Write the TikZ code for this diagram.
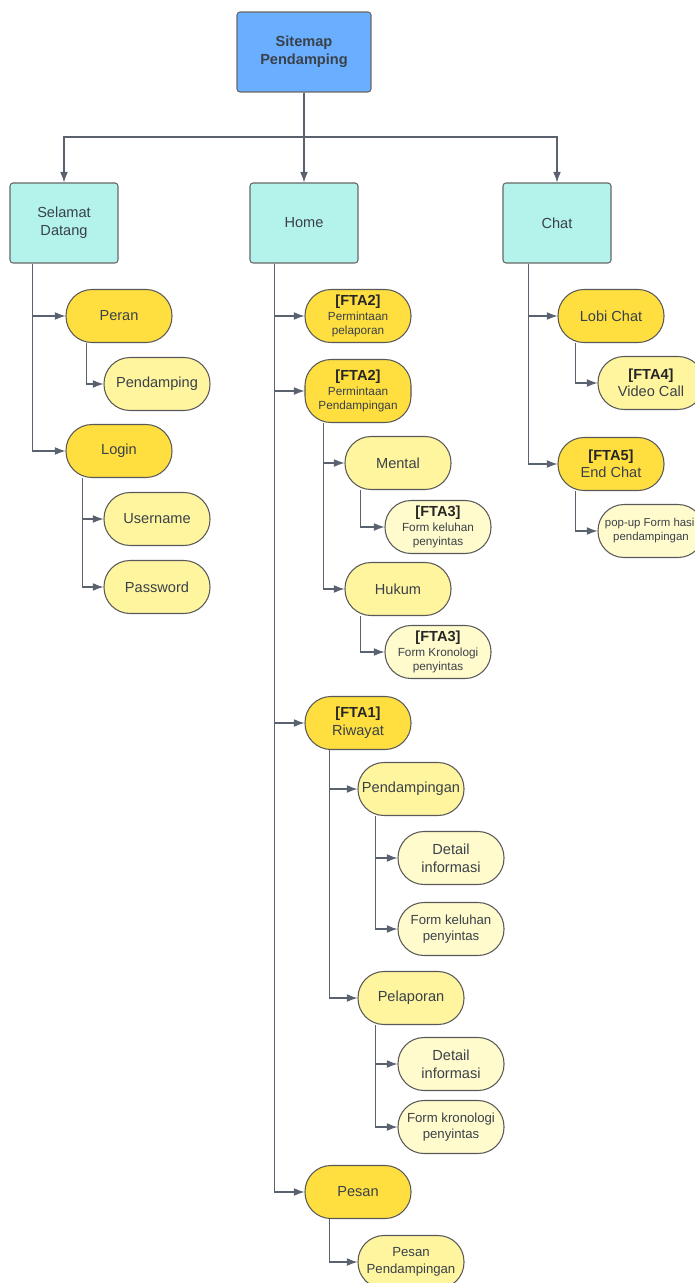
\documentclass[tikz,border=0pt]{standalone}
\usepackage{fontspec}
\setmainfont{Liberation Sans}
\usetikzlibrary{calc,arrows.meta}
\definecolor{skyblue}{HTML}{6AAFFF}
\definecolor{aqua}{HTML}{B3F3EB}
\definecolor{goldfill}{HTML}{FFDF3F}
\definecolor{lemon}{HTML}{FFF59E}
\definecolor{cream}{HTML}{FFFBCC}
\definecolor{ink}{HTML}{3A414A}
\definecolor{wire}{HTML}{5A6270}
\newcommand\fta[1]{\fontsize{8.3}{10}\selectfont\bfseries\color{black!85}[#1]}
\begin{document}
\begin{tikzpicture}[x=0.02cm,y=-0.02cm,line width=0.6pt,
    font=\fontsize{8.3}{10}\selectfont,text=ink,
    subtxt/.style={font=\fontsize{6.7}{8.4}\selectfont},
    midtxt/.style={font=\fontsize{7.5}{9.5}\selectfont},
    tinytxt/.style={font=\fontsize{6.5}{8}\selectfont},
    topbox/.style={draw=black!60,fill=aqua,rounded corners=0.06cm,minimum width=2.16cm,minimum height=1.6cm,align=center},
    pill/.style={draw=black!65,rounded corners=0.52cm,minimum width=2.12cm,minimum height=1.06cm,align=center,inner sep=1pt},
    lvlone/.style={pill,fill=goldfill},
    lvltwo/.style={pill,fill=lemon},
    lvlthree/.style={pill,fill=cream},
    conn/.style={draw=wire,-{Latex[length=6pt,width=4.4pt]}}]
    \clip (0,0) rectangle (695,1283);
    \fill[white] (0,0) rectangle (695,1283);
    % root and main sections
    \node[topbox,fill=skyblue,minimum width=2.68cm,font=\fontsize{8.3}{10}\selectfont\bfseries] (sitemap) at (304,52) {Sitemap\\Pendamping};
    \node[topbox] (welcome) at (64,223) {Selamat\\Datang};
    \node[topbox] (home) at (304,223) {Home};
    \node[topbox] (chat) at (557,223) {Chat};
    \coordinate (bus) at (304,137);
    % Selamat Datang
    \node[lvlone] (peran) at (119,316) {Peran};
    \node[lvltwo] (pendamping) at (157,384) {Pendamping};
    \node[lvlone] (login) at (119,451) {Login};
    \node[lvltwo] (username) at (157,519) {Username};
    \node[lvltwo] (password) at (157,587) {Password};
    % Home
    \node[lvlone,subtxt] (pelaporan) at (358,316) {\fta{FTA2}\\Permintaan\\pelaporan};
    \node[lvlone,subtxt,minimum height=1.26cm] (reqpend) at (358,391) {\fta{FTA2}\\Permintaan\\Pendampingan};
    \node[lvltwo] (mental) at (398,463) {Mental};
    \node[lvlthree,subtxt] (keluhan) at (438,527) {\fta{FTA3}\\Form keluhan\\penyintas};
    \node[lvltwo] (hukum) at (398,589) {Hukum};
    \node[lvlthree,subtxt] (kronologi) at (438,652) {\fta{FTA3}\\Form Kronologi\\penyintas};
    \node[lvlone] (riwayat) at (358,723) {\fta{FTA1}\\Riwayat};
    \node[lvltwo] (rpend) at (411,789) {Pendampingan};
    \node[lvlthree] (rpdetail) at (451,858) {Detail\\informasi};
    \node[lvlthree,midtxt] (rpform) at (451,929) {Form keluhan\\penyintas};
    \node[lvltwo] (rlapor) at (411,998) {Pelaporan};
    \node[lvlthree] (rldetail) at (451,1064) {Detail\\informasi};
    \node[lvlthree,midtxt] (rlform) at (451,1127) {Form kronologi\\penyintas};
    \node[lvlone] (pesan) at (358,1192) {Pesan};
    \node[lvltwo,midtxt] (pesanpend) at (411,1262) {Pesan\\Pendampingan};
    % Chat
    \node[lvlone] (lobi) at (611,316) {Lobi Chat};
    \node[lvltwo] (video) at (651,383) {\fta{FTA4}\\Video Call};
    \node[lvlone] (endchat) at (611,464) {\fta{FTA5}\\End Chat};
    \node[lvlthree,tinytxt] (popup) at (651,531) {pop-up Form hasil\\pendampingan};
    % connectors
    \draw[conn] (sitemap.south) -- (home.north);
    \draw[conn] (bus) -| (welcome.north);
    \draw[conn] (bus) -| (chat.north);
    \foreach \p/\c/\d in {welcome/peran/23,welcome/login/23,peran/pendamping/21,
        login/username/17,login/password/17,
        home/pelaporan/25,home/reqpend/25,home/riwayat/25,home/pesan/25,
        reqpend/mental/19,reqpend/hukum/19,mental/keluhan/16,hukum/kronologi/16,
        riwayat/rpend/25,riwayat/rlapor/25,rpend/rpdetail/18,rpend/rpform/18,
        rlapor/rldetail/18,rlapor/rlform/18,pesan/pesanpend/25,
        chat/lobi/26,chat/endchat/26,lobi/video/18,endchat/popup/18}
        \draw[conn] ($(\p.south west)+(\d,0)$) |- (\c.west);
\end{tikzpicture}
\end{document}
